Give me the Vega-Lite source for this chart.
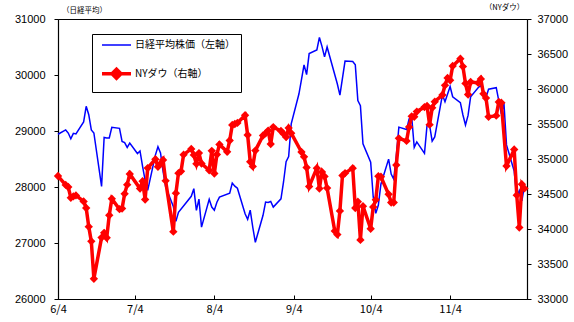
{
 "$schema": "https://vega.github.io/schema/vega-lite/v6.json",
 "width": 469, "height": 280,
 "autosize": {"type": "none"},
 "padding": {"left": 58, "top": 19, "right": 47, "bottom": 23},
 "background": "white",
 "config": {
  "view": {"stroke": "#000", "strokeWidth": 1},
  "axis": {"grid": false, "domainColor": "#000", "tickColor": "#000", "labelColor": "#000", "labelFont": "Liberation Sans", "labelFontSize": 11, "titleColor": "#000", "titleFontWeight": "normal", "domainWidth": 1.2}
 },
 "datasets": {
  "nikkei": [
   {"date":"2021-06-04","v":28941.52},{"date":"2021-06-07","v":29019.24},{"date":"2021-06-08","v":28963.56},{"date":"2021-06-09","v":28860.80},{"date":"2021-06-10","v":28958.56},{"date":"2021-06-11","v":28948.73},{"date":"2021-06-14","v":29161.80},{"date":"2021-06-15","v":29441.30},{"date":"2021-06-16","v":29291.01},{"date":"2021-06-17","v":29018.33},{"date":"2021-06-18","v":28964.08},{"date":"2021-06-21","v":28010.93},{"date":"2021-06-22","v":28884.13},{"date":"2021-06-23","v":28874.89},{"date":"2021-06-24","v":28875.23},{"date":"2021-06-25","v":29066.18},{"date":"2021-06-28","v":29048.02},{"date":"2021-06-29","v":28812.63},{"date":"2021-06-30","v":28791.53},
   {"date":"2021-07-01","v":28707.04},{"date":"2021-07-02","v":28783.28},{"date":"2021-07-05","v":28598.19},{"date":"2021-07-06","v":28643.21},{"date":"2021-07-07","v":28366.95},{"date":"2021-07-08","v":28118.03},{"date":"2021-07-09","v":27940.42},{"date":"2021-07-12","v":28569.02},{"date":"2021-07-13","v":28718.24},{"date":"2021-07-14","v":28608.49},{"date":"2021-07-15","v":28279.09},{"date":"2021-07-16","v":28003.08},{"date":"2021-07-19","v":27652.74},{"date":"2021-07-20","v":27388.16},{"date":"2021-07-21","v":27548.00},{"date":"2021-07-26","v":27833.29},{"date":"2021-07-27","v":27970.22},{"date":"2021-07-28","v":27581.66},{"date":"2021-07-29","v":27782.42},{"date":"2021-07-30","v":27283.59},
   {"date":"2021-08-02","v":27781.02},{"date":"2021-08-03","v":27641.83},{"date":"2021-08-04","v":27584.08},{"date":"2021-08-05","v":27728.12},{"date":"2021-08-06","v":27820.04},{"date":"2021-08-10","v":27888.15},{"date":"2021-08-11","v":28070.51},{"date":"2021-08-12","v":28015.02},{"date":"2021-08-13","v":27977.15},{"date":"2021-08-16","v":27523.19},{"date":"2021-08-17","v":27424.47},{"date":"2021-08-18","v":27585.91},{"date":"2021-08-19","v":27281.17},{"date":"2021-08-20","v":27013.25},{"date":"2021-08-23","v":27494.24},{"date":"2021-08-24","v":27732.10},{"date":"2021-08-25","v":27724.80},{"date":"2021-08-26","v":27742.29},{"date":"2021-08-27","v":27641.14},{"date":"2021-08-30","v":27789.29},{"date":"2021-08-31","v":28089.54},
   {"date":"2021-09-01","v":28451.02},{"date":"2021-09-02","v":28543.51},{"date":"2021-09-03","v":29128.11},{"date":"2021-09-06","v":29659.89},{"date":"2021-09-07","v":29916.14},{"date":"2021-09-08","v":30181.21},{"date":"2021-09-09","v":30008.19},{"date":"2021-09-10","v":30381.84},{"date":"2021-09-13","v":30447.37},{"date":"2021-09-14","v":30670.10},{"date":"2021-09-15","v":30511.71},{"date":"2021-09-16","v":30323.34},{"date":"2021-09-17","v":30500.05},{"date":"2021-09-21","v":29839.71},{"date":"2021-09-22","v":29639.40},{"date":"2021-09-24","v":30248.81},{"date":"2021-09-27","v":30240.06},{"date":"2021-09-28","v":30183.96},{"date":"2021-09-29","v":29544.29},{"date":"2021-09-30","v":29452.66},
   {"date":"2021-10-01","v":28771.07},{"date":"2021-10-04","v":28444.89},{"date":"2021-10-05","v":27822.12},{"date":"2021-10-06","v":27528.87},{"date":"2021-10-07","v":27678.21},{"date":"2021-10-08","v":28048.94},{"date":"2021-10-11","v":28498.20},{"date":"2021-10-12","v":28230.61},{"date":"2021-10-13","v":28140.28},{"date":"2021-10-14","v":28550.93},{"date":"2021-10-15","v":29068.63},{"date":"2021-10-18","v":29025.46},{"date":"2021-10-19","v":29215.52},{"date":"2021-10-20","v":29255.55},{"date":"2021-10-21","v":28708.58},{"date":"2021-10-22","v":28804.85},{"date":"2021-10-25","v":28600.41},{"date":"2021-10-26","v":29106.01},{"date":"2021-10-27","v":29098.24},{"date":"2021-10-28","v":28820.09},{"date":"2021-10-29","v":28892.69},
   {"date":"2021-11-01","v":29647.08},{"date":"2021-11-02","v":29520.90},{"date":"2021-11-04","v":29794.37},{"date":"2021-11-05","v":29611.57},{"date":"2021-11-08","v":29507.05},{"date":"2021-11-09","v":29285.46},{"date":"2021-11-10","v":29106.78},{"date":"2021-11-11","v":29277.86},{"date":"2021-11-12","v":29609.97},{"date":"2021-11-15","v":29776.80},{"date":"2021-11-16","v":29808.12},{"date":"2021-11-17","v":29688.33},{"date":"2021-11-18","v":29598.66},{"date":"2021-11-19","v":29745.87},{"date":"2021-11-22","v":29774.11},{"date":"2021-11-24","v":29302.66},{"date":"2021-11-25","v":29499.28},{"date":"2021-11-26","v":28751.62},{"date":"2021-11-29","v":28283.92},{"date":"2021-11-30","v":27821.76},
   {"date":"2021-12-01","v":27935.62},{"date":"2021-12-02","v":27753.37},{"date":"2021-12-03","v":28029.57}
  ],
  "dow": [
   {"date":"2021-06-04","v":34756.39},{"date":"2021-06-07","v":34630.24},{"date":"2021-06-08","v":34599.82},{"date":"2021-06-09","v":34447.14},{"date":"2021-06-10","v":34466.24},{"date":"2021-06-11","v":34479.60},{"date":"2021-06-14","v":34393.75},{"date":"2021-06-15","v":34299.33},{"date":"2021-06-16","v":34033.67},{"date":"2021-06-17","v":33823.45},{"date":"2021-06-18","v":33290.08},{"date":"2021-06-21","v":33876.97},{"date":"2021-06-22","v":33945.58},{"date":"2021-06-23","v":33874.24},{"date":"2021-06-24","v":34196.82},{"date":"2021-06-25","v":34433.84},{"date":"2021-06-28","v":34283.27},{"date":"2021-06-29","v":34292.29},{"date":"2021-06-30","v":34502.51},
   {"date":"2021-07-01","v":34633.53},{"date":"2021-07-02","v":34786.35},{"date":"2021-07-06","v":34577.37},{"date":"2021-07-07","v":34681.79},{"date":"2021-07-08","v":34421.93},{"date":"2021-07-09","v":34870.16},{"date":"2021-07-12","v":34996.18},{"date":"2021-07-13","v":34888.79},{"date":"2021-07-14","v":34933.23},{"date":"2021-07-15","v":34987.02},{"date":"2021-07-16","v":34687.85},{"date":"2021-07-19","v":33962.04},{"date":"2021-07-20","v":34511.99},{"date":"2021-07-21","v":34798.00},{"date":"2021-07-22","v":34823.35},{"date":"2021-07-23","v":35061.55},{"date":"2021-07-26","v":35144.31},{"date":"2021-07-27","v":35058.52},{"date":"2021-07-28","v":34930.93},{"date":"2021-07-29","v":35084.53},{"date":"2021-07-30","v":34935.47},
   {"date":"2021-08-02","v":34838.16},{"date":"2021-08-03","v":35116.40},{"date":"2021-08-04","v":34792.67},{"date":"2021-08-05","v":35064.25},{"date":"2021-08-06","v":35208.51},{"date":"2021-08-09","v":35101.85},{"date":"2021-08-10","v":35264.67},{"date":"2021-08-11","v":35484.97},{"date":"2021-08-12","v":35499.85},{"date":"2021-08-13","v":35515.38},{"date":"2021-08-16","v":35625.40},{"date":"2021-08-17","v":35343.28},{"date":"2021-08-18","v":34960.69},{"date":"2021-08-19","v":34894.12},{"date":"2021-08-20","v":35120.08},{"date":"2021-08-23","v":35335.71},{"date":"2021-08-24","v":35366.26},{"date":"2021-08-25","v":35405.50},{"date":"2021-08-26","v":35213.12},{"date":"2021-08-27","v":35455.80},{"date":"2021-08-30","v":35399.84},{"date":"2021-08-31","v":35360.73},
   {"date":"2021-09-01","v":35312.53},{"date":"2021-09-02","v":35443.82},{"date":"2021-09-03","v":35369.09},{"date":"2021-09-07","v":35100.00},{"date":"2021-09-08","v":35031.07},{"date":"2021-09-09","v":34879.38},{"date":"2021-09-10","v":34607.72},{"date":"2021-09-13","v":34869.63},{"date":"2021-09-14","v":34577.57},{"date":"2021-09-15","v":34814.39},{"date":"2021-09-16","v":34751.32},{"date":"2021-09-17","v":34584.88},{"date":"2021-09-20","v":33970.47},{"date":"2021-09-21","v":33919.84},{"date":"2021-09-22","v":34258.32},{"date":"2021-09-23","v":34764.82},{"date":"2021-09-24","v":34798.00},{"date":"2021-09-27","v":34869.37},{"date":"2021-09-28","v":34299.99},{"date":"2021-09-29","v":34390.72},{"date":"2021-09-30","v":33843.92},
   {"date":"2021-10-01","v":34326.46},{"date":"2021-10-04","v":34002.92},{"date":"2021-10-05","v":34314.67},{"date":"2021-10-06","v":34416.99},{"date":"2021-10-07","v":34754.94},{"date":"2021-10-08","v":34746.25},{"date":"2021-10-11","v":34496.06},{"date":"2021-10-12","v":34378.34},{"date":"2021-10-13","v":34377.81},{"date":"2021-10-14","v":34912.56},{"date":"2021-10-15","v":35294.76},{"date":"2021-10-18","v":35258.61},{"date":"2021-10-19","v":35457.31},{"date":"2021-10-20","v":35609.34},{"date":"2021-10-21","v":35603.08},{"date":"2021-10-22","v":35677.02},{"date":"2021-10-25","v":35741.15},{"date":"2021-10-26","v":35756.88},{"date":"2021-10-27","v":35490.69},{"date":"2021-10-28","v":35730.48},{"date":"2021-10-29","v":35819.56},
   {"date":"2021-11-01","v":35913.84},{"date":"2021-11-02","v":36052.63},{"date":"2021-11-03","v":36157.58},{"date":"2021-11-04","v":36124.23},{"date":"2021-11-05","v":36327.95},{"date":"2021-11-08","v":36432.22},{"date":"2021-11-09","v":36319.98},{"date":"2021-11-10","v":36079.94},{"date":"2021-11-11","v":35921.23},{"date":"2021-11-12","v":36100.31},{"date":"2021-11-15","v":36087.45},{"date":"2021-11-16","v":36142.22},{"date":"2021-11-17","v":35931.05},{"date":"2021-11-18","v":35870.95},{"date":"2021-11-19","v":35601.98},{"date":"2021-11-22","v":35619.25},{"date":"2021-11-23","v":35813.80},{"date":"2021-11-24","v":35804.38},{"date":"2021-11-26","v":34899.34},{"date":"2021-11-29","v":35135.94},{"date":"2021-11-30","v":34483.72},
   {"date":"2021-12-01","v":34022.04},{"date":"2021-12-02","v":34639.79},{"date":"2021-12-03","v":34580.08}
  ]
 },
 "layer": [
  {
   "data": {"name": "nikkei"},
   "mark": {"type": "line", "strokeWidth": 1.5, "clip": false},
   "encoding": {
    "x": {"field": "date", "type": "temporal",
     "scale": {"type": "utc", "domain": [{"year": 2021, "month": 6, "date": 4, "utc": true}, {"year": 2021, "month": 12, "date": 4, "utc": true}]},
     "axis": {"title": null, "format": "%-m/%-d", "labelFont": "Noto Sans CJK JP", "labelFontSize": 11, "tickSize": -4, "labelPadding": 8, "labelFlush": false, "labelOverlap": false,
      "values": [{"year": 2021, "month": 6, "date": 4, "utc": true}, {"year": 2021, "month": 7, "date": 4, "utc": true}, {"year": 2021, "month": 8, "date": 4, "utc": true}, {"year": 2021, "month": 9, "date": 4, "utc": true}, {"year": 2021, "month": 10, "date": 4, "utc": true}, {"year": 2021, "month": 11, "date": 4, "utc": true}]}},
    "y": {"field": "v", "type": "quantitative",
     "scale": {"domain": [26000, 31000], "zero": false, "nice": false},
     "axis": {"orient": "left", "values": [26000, 27000, 28000, 29000, 30000, 31000], "format": "d", "tickSize": 4, "labelPadding": 9,
      "title": "（日経平均）", "titleAngle": 0, "titleX": 26, "titleY": -9, "titleAlign": "center", "titleBaseline": "middle", "titleFont": "Noto Sans CJK JP", "titleFontSize": 7.5}},
    "color": {"datum": "日経平均株価（左軸）", "type": "nominal",
     "scale": {"domain": ["日経平均株価（左軸）", "NYダウ（右軸）"], "range": ["#0000ff", "#ff0000"]},
     "legend": {"orient": "none", "legendX": 34, "legendY": 15, "title": null, "padding": 6, "strokeColor": "#000", "fillColor": "#fff",
      "labelFont": "Noto Sans CJK JP", "labelFontSize": 10, "labelColor": "#000", "labelLimit": 300, "symbolSize": 100, "rowPadding": 11.7, "labelOffset": 27,
      "encode": {"symbols": {"update": {
       "shape": {"signal": "datum.value === 'NYダウ（右軸）' ? 'M-0.2,0L5.6,0M2.7,-0.9L3.6,0L2.7,0.9L1.8,0Z' : 'M-0.2,0L5.6,0'"},
       "fill": {"signal": "datum.value === 'NYダウ（右軸）' ? '#ff0000' : 'transparent'"},
       "stroke": {"signal": "datum.value === 'NYダウ（右軸）' ? '#ff0000' : '#0000ff'"},
       "strokeWidth": {"signal": "datum.value === 'NYダウ（右軸）' ? 3.5 : 1.5"},
       "opacity": {"value": 1}, "fillOpacity": {"value": 1}, "strokeOpacity": {"value": 1}
      }}}}}
   }
  },
  {
   "data": {"name": "dow"},
   "mark": {"type": "line", "strokeWidth": 3.5, "clip": false, "point": {"shape": "diamond", "size": 70, "filled": true, "color": "#ff0000", "opacity": 1}},
   "encoding": {
    "x": {"field": "date", "type": "temporal"},
    "y": {"field": "v", "type": "quantitative",
     "scale": {"domain": [33000, 37000], "zero": false, "nice": false},
     "axis": {"orient": "right", "values": [33000, 33500, 34000, 34500, 35000, 35500, 36000, 36500, 37000], "format": "d", "tickSize": 4, "labelPadding": 6,
      "title": "（NYダウ）", "titleAngle": 0, "titleX": -23, "titleY": -12, "titleAlign": "center", "titleBaseline": "middle", "titleFont": "Noto Sans CJK JP", "titleFontSize": 7.5}},
    "color": {"datum": "NYダウ（右軸）", "type": "nominal"}
   }
  }
 ],
 "resolve": {"scale": {"y": "independent"}}
}
